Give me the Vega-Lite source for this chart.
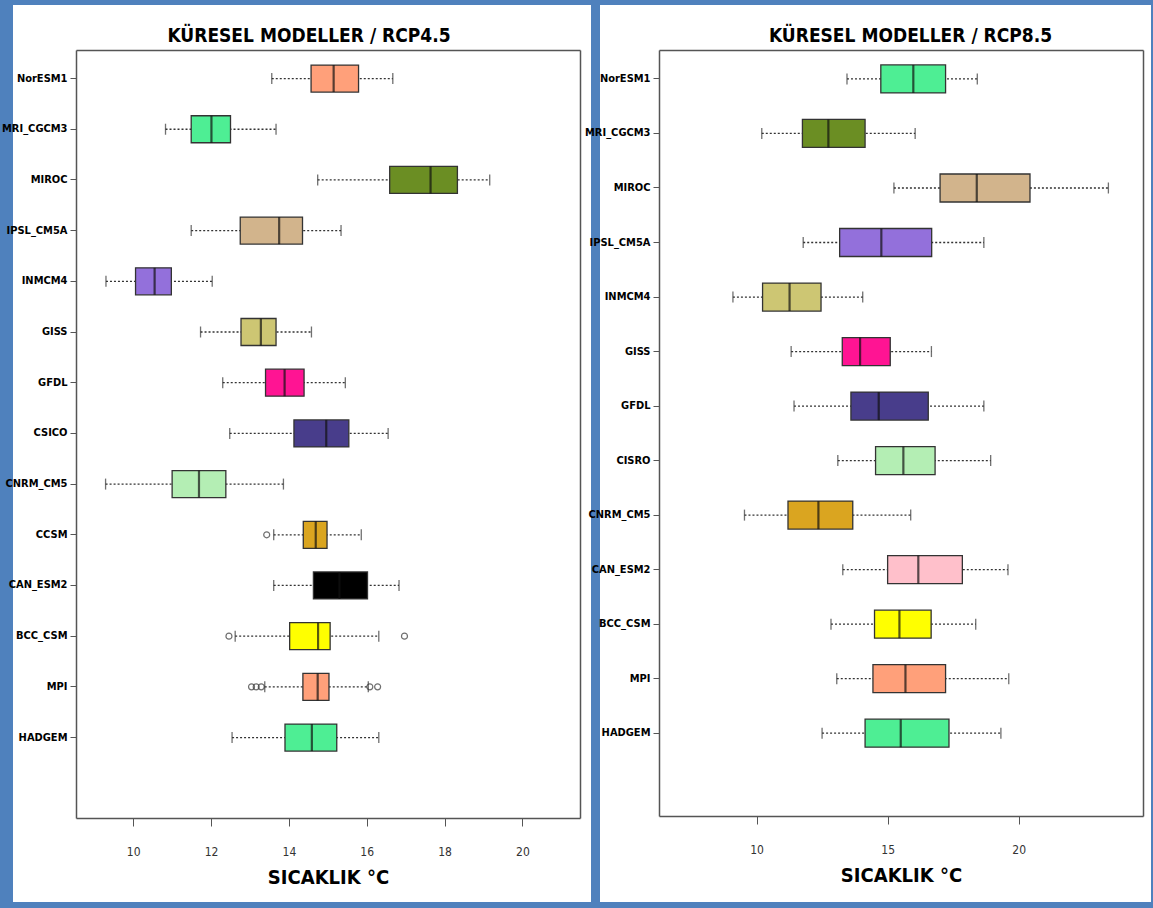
{
  "$schema": "https://vega.github.io/schema/vega-lite/v6.json",
  "background": "#4f81bd",
  "padding": {"left": 1, "top": 5, "right": 3, "bottom": 6},
  "spacing": -7,
  "resolve": {"scale": {"color": "independent", "x": "independent", "y": "independent"}},
  "datasets": {
    "rcp45": [
      {"model": "NorESM1", "lower": 13.56, "q1": 14.57, "median": 15.15, "q3": 15.79, "upper": 16.67},
      {"model": "MRI_CGCM3", "lower": 10.83, "q1": 11.49, "median": 12.01, "q3": 12.5, "upper": 13.67},
      {"model": "MIROC", "lower": 14.74, "q1": 16.59, "median": 17.64, "q3": 18.33, "upper": 19.16},
      {"model": "IPSL_CM5A", "lower": 11.49, "q1": 12.75, "median": 13.75, "q3": 14.35, "upper": 15.34},
      {"model": "INMCM4", "lower": 9.3, "q1": 10.06, "median": 10.55, "q3": 10.98, "upper": 12.03},
      {"model": "GISS", "lower": 11.73, "q1": 12.77, "median": 13.28, "q3": 13.67, "upper": 14.58},
      {"model": "GFDL", "lower": 12.3, "q1": 13.4, "median": 13.89, "q3": 14.39, "upper": 15.45},
      {"model": "CSICO", "lower": 12.48, "q1": 14.13, "median": 14.96, "q3": 15.54, "upper": 16.55},
      {"model": "CNRM_CM5", "lower": 9.29, "q1": 11.0, "median": 11.69, "q3": 12.38, "upper": 13.86},
      {"model": "CCSM", "lower": 13.61, "q1": 14.37, "median": 14.69, "q3": 14.98, "upper": 15.86},
      {"model": "CAN_ESM2", "lower": 13.61, "q1": 14.63, "median": 15.3, "q3": 16.02, "upper": 16.83},
      {"model": "BCC_CSM", "lower": 12.62, "q1": 14.02, "median": 14.75, "q3": 15.06, "upper": 16.31},
      {"model": "MPI", "lower": 13.38, "q1": 14.36, "median": 14.74, "q3": 15.03, "upper": 16.04},
      {"model": "HADGEM", "lower": 12.54, "q1": 13.9, "median": 14.59, "q3": 15.23, "upper": 16.31}
    ],
    "out45": [
      {"model": "CCSM", "value": 13.43},
      {"model": "BCC_CSM", "value": 12.46},
      {"model": "BCC_CSM", "value": 16.97},
      {"model": "MPI", "value": 13.04},
      {"model": "MPI", "value": 13.16},
      {"model": "MPI", "value": 13.29},
      {"model": "MPI", "value": 16.08},
      {"model": "MPI", "value": 16.28}
    ],
    "rcp85": [
      {"model": "NorESM1", "lower": 13.45, "q1": 14.74, "median": 15.98, "q3": 17.21, "upper": 18.42},
      {"model": "MRI_CGCM3", "lower": 10.2, "q1": 11.75, "median": 12.74, "q3": 14.14, "upper": 16.05},
      {"model": "MIROC", "lower": 15.24, "q1": 17.0, "median": 18.4, "q3": 20.43, "upper": 23.42},
      {"model": "IPSL_CM5A", "lower": 11.78, "q1": 13.17, "median": 14.76, "q3": 16.68, "upper": 18.67},
      {"model": "INMCM4", "lower": 9.1, "q1": 10.23, "median": 11.26, "q3": 12.46, "upper": 14.05},
      {"model": "GISS", "lower": 11.32, "q1": 13.27, "median": 13.95, "q3": 15.1, "upper": 16.67},
      {"model": "GFDL", "lower": 11.43, "q1": 13.6, "median": 14.66, "q3": 16.55, "upper": 18.67},
      {"model": "CISRO", "lower": 13.1, "q1": 14.54, "median": 15.6, "q3": 16.81, "upper": 18.93},
      {"model": "CNRM_CM5", "lower": 9.54, "q1": 11.2, "median": 12.36, "q3": 13.67, "upper": 15.88},
      {"model": "CAN_ESM2", "lower": 13.29, "q1": 15.0, "median": 16.17, "q3": 17.85, "upper": 19.59},
      {"model": "BCC_CSM", "lower": 12.84, "q1": 14.5, "median": 15.45, "q3": 16.66, "upper": 18.36},
      {"model": "MPI", "lower": 13.06, "q1": 14.44, "median": 15.68, "q3": 17.21, "upper": 19.62},
      {"model": "HADGEM", "lower": 12.5, "q1": 14.14, "median": 15.5, "q3": 17.34, "upper": 19.32}
    ]
  },
  "hconcat": [
    {
      "width": 578,
      "height": 897,
      "title": {"text": "KÜRESEL MODELLER / RCP4.5", "frame": "group", "offset": -41, "dx": 7, "fontSize": 19, "fontWeight": "bold", "font": "DejaVu Sans Condensed, sans-serif", "color": "#000"},
      "resolve": {"axis": {"x": "independent", "y": "independent"}},
      "layer": [
        {
          "data": {"name": "rcp45"},
          "mark": {"type": "rule", "strokeDash": [2, 2], "color": "#333", "strokeWidth": 1.3},
          "encoding": {
            "y": {"field": "model", "type": "nominal", "sort": null,
              "scale": {"type": "band", "domain": ["NorESM1", "MRI_CGCM3", "MIROC", "IPSL_CM5A", "INMCM4", "GISS", "GFDL", "CSICO", "CNRM_CM5", "CCSM", "CAN_ESM2", "BCC_CSM", "MPI", "HADGEM"], "range": [45, 813], "paddingInner": 0.85, "paddingOuter": 1, "align": 0.244},
              "axis": {"orient": "left", "offset": -63, "title": null, "tickSize": 6, "labelPadding": 3, "labelFontSize": 11, "labelFontWeight": "bold", "labelColor": "#000", "labelFont": "DejaVu Sans Condensed, sans-serif", "domainColor": "#555", "domainWidth": 1.5, "tickColor": "#555", "grid": false}},
            "x": {"field": "lower", "type": "quantitative",
              "scale": {"domain": [8.53, 21.48], "range": [63, 567], "nice": false, "zero": false},
              "axis": {"orient": "bottom", "offset": -84, "values": [10, 12, 14, 16, 18, 20], "tickSize": 8, "labelPadding": 20, "labelFontSize": 12, "labelColor": "#333", "labelFont": "DejaVu Sans Condensed, sans-serif", "domainColor": "#555", "domainWidth": 1.5, "tickColor": "#555", "grid": false, "title": "SICAKLIK °C", "titleFontSize": 20, "titleFontWeight": "bold", "titleColor": "#000", "titleFont": "DejaVu Sans Condensed, sans-serif", "titlePadding": 10}},
            "x2": {"field": "upper"}
          }
        },
        {
          "data": {"name": "rcp45"},
          "mark": {"type": "tick", "color": "#333", "size": 11, "thickness": 1.3},
          "encoding": {
            "y": {"field": "model", "type": "nominal", "sort": null, "axis": null},
            "x": {"field": "lower", "type": "quantitative", "axis": null}
          }
        },
        {
          "data": {"name": "rcp45"},
          "mark": {"type": "tick", "color": "#333", "size": 11, "thickness": 1.3},
          "encoding": {
            "y": {"field": "model", "type": "nominal", "sort": null,
              "axis": {"orient": "right", "offset": -11, "title": null, "labels": false, "ticks": false, "domainColor": "#555", "domainWidth": 1.5, "grid": false}},
            "x": {"field": "upper", "type": "quantitative",
              "axis": {"orient": "top", "offset": -45, "title": null, "labels": false, "ticks": false, "domainColor": "#555", "domainWidth": 1.5, "grid": false}}
          }
        },
        {
          "data": {"name": "rcp45"},
          "mark": {"type": "bar", "size": 27, "stroke": "#333", "strokeWidth": 1.3},
          "encoding": {
            "y": {"field": "model", "type": "nominal", "sort": null, "axis": null},
            "x": {"field": "q1", "type": "quantitative", "axis": null},
            "x2": {"field": "q3"},
            "color": {"field": "model", "type": "nominal", "legend": null,
              "scale": {"domain": ["NorESM1", "MRI_CGCM3", "MIROC", "IPSL_CM5A", "INMCM4", "GISS", "GFDL", "CSICO", "CNRM_CM5", "CCSM", "CAN_ESM2", "BCC_CSM", "MPI", "HADGEM"],
                "range": ["#FFA07A", "#4EEE94", "#6B8E23", "#D2B48C", "#9370DB", "#CDC673", "#FF1493", "#483D8B", "#B4EEB4", "#DAA520", "#000000", "#FFFF00", "#FFA07A", "#4EEE94"]}}
          }
        },
        {
          "data": {"name": "rcp45"},
          "mark": {"type": "tick", "color": "#111", "size": 27, "thickness": 2.2},
          "encoding": {
            "y": {"field": "model", "type": "nominal", "sort": null, "axis": null},
            "x": {"field": "median", "type": "quantitative", "axis": null}
          }
        },
        {
          "data": {"name": "out45"},
          "mark": {"type": "point", "shape": "circle", "filled": false, "stroke": "#333", "strokeWidth": 1.2, "size": 36},
          "encoding": {
            "y": {"field": "model", "type": "nominal", "sort": null, "axis": null},
            "x": {"field": "value", "type": "quantitative", "axis": null}
          }
        }
      ]
    },
    {
      "width": 551,
      "height": 897,
      "title": {"text": "KÜRESEL MODELLER / RCP8.5", "frame": "group", "offset": -41, "dx": 35, "fontSize": 19, "fontWeight": "bold", "font": "DejaVu Sans Condensed, sans-serif", "color": "#000"},
      "resolve": {"axis": {"x": "independent", "y": "independent"}},
      "layer": [
        {
          "data": {"name": "rcp85"},
          "mark": {"type": "rule", "strokeDash": [2, 2], "color": "#333", "strokeWidth": 1.3},
          "encoding": {
            "y": {"field": "model", "type": "nominal", "sort": null,
              "scale": {"type": "band", "domain": ["NorESM1", "MRI_CGCM3", "MIROC", "IPSL_CM5A", "INMCM4", "GISS", "GFDL", "CISRO", "CNRM_CM5", "CAN_ESM2", "BCC_CSM", "MPI", "HADGEM"], "range": [45, 811], "paddingInner": 0.95, "paddingOuter": 1, "align": 0.253},
              "axis": {"orient": "left", "offset": -59, "title": null, "tickSize": 6, "labelPadding": 3, "labelFontSize": 11, "labelFontWeight": "bold", "labelColor": "#000", "labelFont": "DejaVu Sans Condensed, sans-serif", "domainColor": "#555", "domainWidth": 1.5, "tickColor": "#555", "grid": false}},
            "x": {"field": "lower", "type": "quantitative",
              "scale": {"domain": [6.28, 24.74], "range": [59, 543], "nice": false, "zero": false},
              "axis": {"orient": "bottom", "offset": -86, "values": [10, 15, 20], "tickSize": 8, "labelPadding": 20, "labelFontSize": 12, "labelColor": "#333", "labelFont": "DejaVu Sans Condensed, sans-serif", "domainColor": "#555", "domainWidth": 1.5, "tickColor": "#555", "grid": false, "title": "SICAKLIK °C", "titleFontSize": 20, "titleFontWeight": "bold", "titleColor": "#000", "titleFont": "DejaVu Sans Condensed, sans-serif", "titlePadding": 10}},
            "x2": {"field": "upper"}
          }
        },
        {
          "data": {"name": "rcp85"},
          "mark": {"type": "tick", "color": "#333", "size": 11, "thickness": 1.3},
          "encoding": {
            "y": {"field": "model", "type": "nominal", "sort": null, "axis": null},
            "x": {"field": "lower", "type": "quantitative", "axis": null}
          }
        },
        {
          "data": {"name": "rcp85"},
          "mark": {"type": "tick", "color": "#333", "size": 11, "thickness": 1.3},
          "encoding": {
            "y": {"field": "model", "type": "nominal", "sort": null,
              "axis": {"orient": "right", "offset": -8, "title": null, "labels": false, "ticks": false, "domainColor": "#555", "domainWidth": 1.5, "grid": false}},
            "x": {"field": "upper", "type": "quantitative",
              "axis": {"orient": "top", "offset": -45, "title": null, "labels": false, "ticks": false, "domainColor": "#555", "domainWidth": 1.5, "grid": false}}
          }
        },
        {
          "data": {"name": "rcp85"},
          "mark": {"type": "bar", "size": 28, "stroke": "#333", "strokeWidth": 1.3},
          "encoding": {
            "y": {"field": "model", "type": "nominal", "sort": null, "axis": null},
            "x": {"field": "q1", "type": "quantitative", "axis": null},
            "x2": {"field": "q3"},
            "color": {"field": "model", "type": "nominal", "legend": null,
              "scale": {"domain": ["NorESM1", "MRI_CGCM3", "MIROC", "IPSL_CM5A", "INMCM4", "GISS", "GFDL", "CISRO", "CNRM_CM5", "CAN_ESM2", "BCC_CSM", "MPI", "HADGEM"],
                "range": ["#4EEE94", "#6B8E23", "#D2B48C", "#9370DB", "#CDC673", "#FF1493", "#483D8B", "#B4EEB4", "#DAA520", "#FFC0CB", "#FFFF00", "#FFA07A", "#4EEE94"]}}
          }
        },
        {
          "data": {"name": "rcp85"},
          "mark": {"type": "tick", "color": "#111", "size": 28, "thickness": 2.2},
          "encoding": {
            "y": {"field": "model", "type": "nominal", "sort": null, "axis": null},
            "x": {"field": "median", "type": "quantitative", "axis": null}
          }
        }
      ]
    }
  ],
  "config": {
    "view": {"fill": "white", "stroke": null},
    "axis": {"grid": false}
  }
}
